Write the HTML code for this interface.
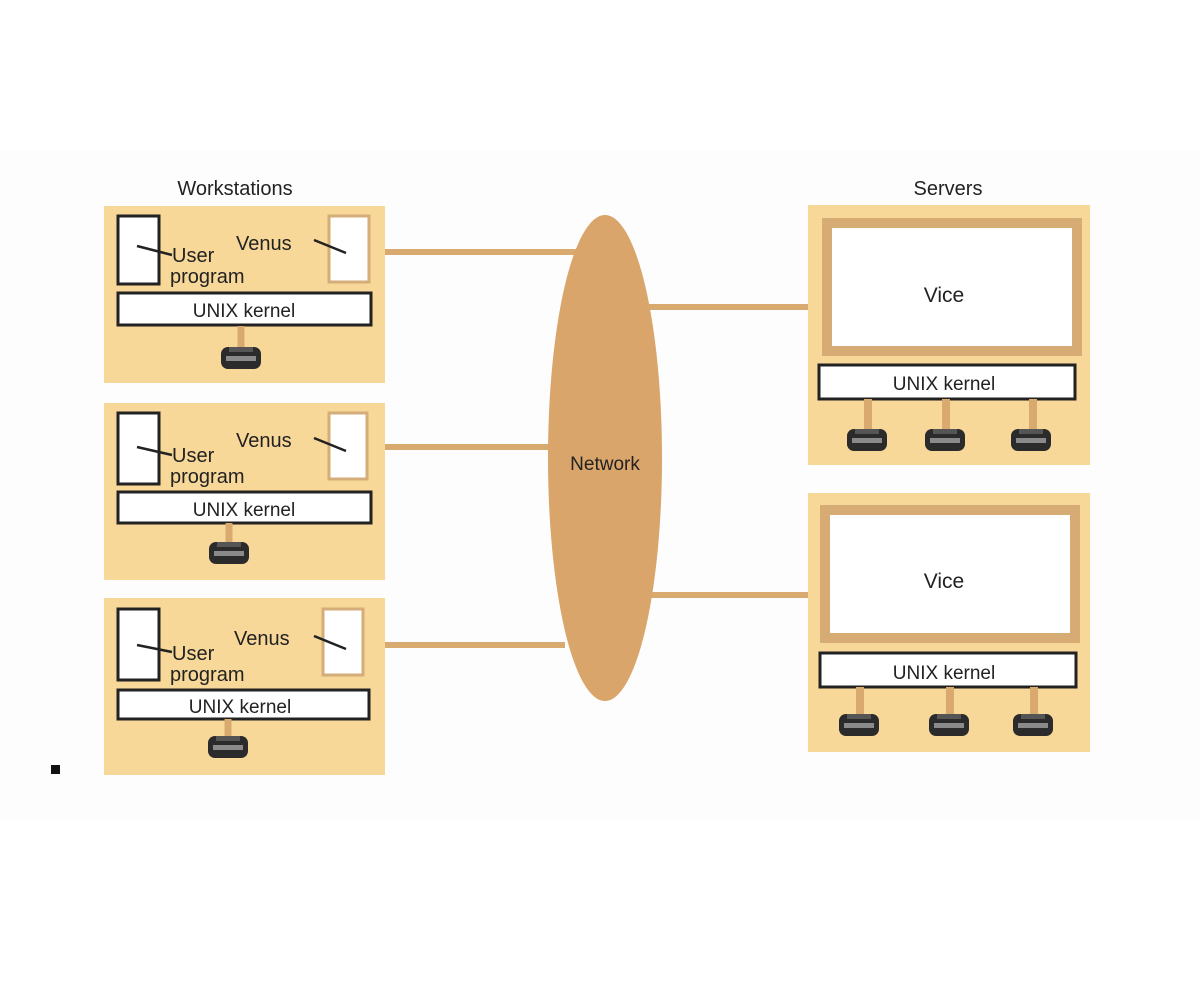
<!DOCTYPE html>
<html><head><meta charset="utf-8"><style>
html,body{margin:0;padding:0;background:#fff;}
svg{display:block;}
text{font-family:"Liberation Sans",sans-serif;fill:#222;}
</style></head><body>
<svg width="1200" height="981" viewBox="0 0 1200 981" xmlns="http://www.w3.org/2000/svg">
<rect x="0" y="0" width="1200" height="981" fill="#fff"/>
<rect x="0" y="150" width="1200" height="670" fill="#fdfdfd"/>
<text x="235" y="195" font-size="20" text-anchor="middle">Workstations</text>
<text x="948" y="195" font-size="20" text-anchor="middle">Servers</text>

<!-- connectors -->
<g stroke="#d9aa70" stroke-width="6">
<line x1="370" y1="252" x2="585" y2="252"/>
<line x1="368" y1="447" x2="560" y2="447"/>
<line x1="364" y1="645" x2="565" y2="645"/>
<line x1="640" y1="307" x2="824" y2="307"/>
<line x1="645" y1="595" x2="822" y2="595"/>
</g>

<ellipse cx="605" cy="458" rx="57" ry="243" fill="#d9a56a"/>
<text x="605" y="470" font-size="19" text-anchor="middle">Network</text>

<defs>
<g id="disk">
<rect x="-20" y="-11" width="40" height="22" rx="7" fill="#2b2b2b"/>
<rect x="-15" y="-2" width="30" height="5" fill="#8a8a8a"/>
<rect x="-12" y="-11" width="24" height="5" fill="#555"/>
</g>
</defs>

<!-- workstation 1 -->
<rect x="104" y="206" width="281" height="177" fill="#f8d899"/>
<rect x="118" y="216" width="41" height="68" fill="#fff" stroke="#222" stroke-width="3"/>
<rect x="329" y="216" width="40" height="66" fill="#fff" stroke="#d4ad78" stroke-width="3"/>
<line x1="137" y1="246" x2="172" y2="255" stroke="#222" stroke-width="2.5"/>
<line x1="314" y1="240" x2="346" y2="253" stroke="#222" stroke-width="2.5"/>
<text x="172" y="262" font-size="20">User</text>
<text x="170" y="283" font-size="20">program</text>
<text x="236" y="250" font-size="20">Venus</text>
<rect x="118" y="293" width="253" height="32" fill="#fff" stroke="#222" stroke-width="3"/>
<text x="244" y="317" font-size="19" text-anchor="middle">UNIX kernel</text>
<line x1="241" y1="326" x2="241" y2="350" stroke="#d9aa70" stroke-width="7"/>
<use href="#disk" x="241" y="358"/>

<!-- workstation 2 -->
<rect x="104" y="403" width="281" height="177" fill="#f8d899"/>
<rect x="118" y="413" width="41" height="71" fill="#fff" stroke="#222" stroke-width="3"/>
<rect x="329" y="413" width="38" height="66" fill="#fff" stroke="#d4ad78" stroke-width="3"/>
<line x1="137" y1="447" x2="172" y2="455" stroke="#222" stroke-width="2.5"/>
<line x1="314" y1="438" x2="346" y2="451" stroke="#222" stroke-width="2.5"/>
<text x="172" y="462" font-size="20">User</text>
<text x="170" y="483" font-size="20">program</text>
<text x="236" y="447" font-size="20">Venus</text>
<rect x="118" y="492" width="253" height="31" fill="#fff" stroke="#222" stroke-width="3"/>
<text x="244" y="516" font-size="19" text-anchor="middle">UNIX kernel</text>
<line x1="229" y1="523" x2="229" y2="545" stroke="#d9aa70" stroke-width="7"/>
<use href="#disk" x="229" y="553"/>

<!-- workstation 3 -->
<rect x="104" y="598" width="281" height="177" fill="#f8d899"/>
<rect x="118" y="609" width="41" height="71" fill="#fff" stroke="#222" stroke-width="3"/>
<rect x="323" y="609" width="40" height="66" fill="#fff" stroke="#d4ad78" stroke-width="3"/>
<line x1="137" y1="645" x2="172" y2="652" stroke="#222" stroke-width="2.5"/>
<line x1="314" y1="636" x2="346" y2="649" stroke="#222" stroke-width="2.5"/>
<text x="172" y="660" font-size="20">User</text>
<text x="170" y="681" font-size="20">program</text>
<text x="234" y="645" font-size="20">Venus</text>
<rect x="118" y="690" width="251" height="29" fill="#fff" stroke="#222" stroke-width="3"/>
<text x="240" y="713" font-size="19" text-anchor="middle">UNIX kernel</text>
<line x1="228" y1="719" x2="228" y2="740" stroke="#d9aa70" stroke-width="7"/>
<use href="#disk" x="228" y="747"/>

<!-- server 1 -->
<rect x="808" y="205" width="282" height="260" fill="#f8d899"/>
<rect x="827" y="223" width="250" height="128" fill="#fff" stroke="#d6ac74" stroke-width="10"/>
<text x="944" y="302" font-size="21" text-anchor="middle">Vice</text>
<rect x="819" y="365" width="256" height="34" fill="#fff" stroke="#222" stroke-width="3"/>
<text x="944" y="390" font-size="19" text-anchor="middle">UNIX kernel</text>
<g stroke="#d9aa70" stroke-width="8">
<line x1="868" y1="399" x2="868" y2="430"/>
<line x1="946" y1="399" x2="946" y2="430"/>
<line x1="1033" y1="399" x2="1033" y2="430"/>
</g>
<use href="#disk" x="867" y="440"/>
<use href="#disk" x="945" y="440"/>
<use href="#disk" x="1031" y="440"/>

<!-- server 2 -->
<rect x="808" y="493" width="282" height="259" fill="#f8d899"/>
<rect x="825" y="510" width="250" height="128" fill="#fff" stroke="#d6ac74" stroke-width="10"/>
<text x="944" y="588" font-size="21" text-anchor="middle">Vice</text>
<rect x="820" y="653" width="256" height="34" fill="#fff" stroke="#222" stroke-width="3"/>
<text x="944" y="679" font-size="19" text-anchor="middle">UNIX kernel</text>
<g stroke="#d9aa70" stroke-width="8">
<line x1="860" y1="687" x2="860" y2="715"/>
<line x1="950" y1="687" x2="950" y2="715"/>
<line x1="1034" y1="687" x2="1034" y2="715"/>
</g>
<use href="#disk" x="859" y="725"/>
<use href="#disk" x="949" y="725"/>
<use href="#disk" x="1033" y="725"/>

<rect x="51" y="765" width="9" height="9" fill="#111"/>
</svg>
</body></html>
